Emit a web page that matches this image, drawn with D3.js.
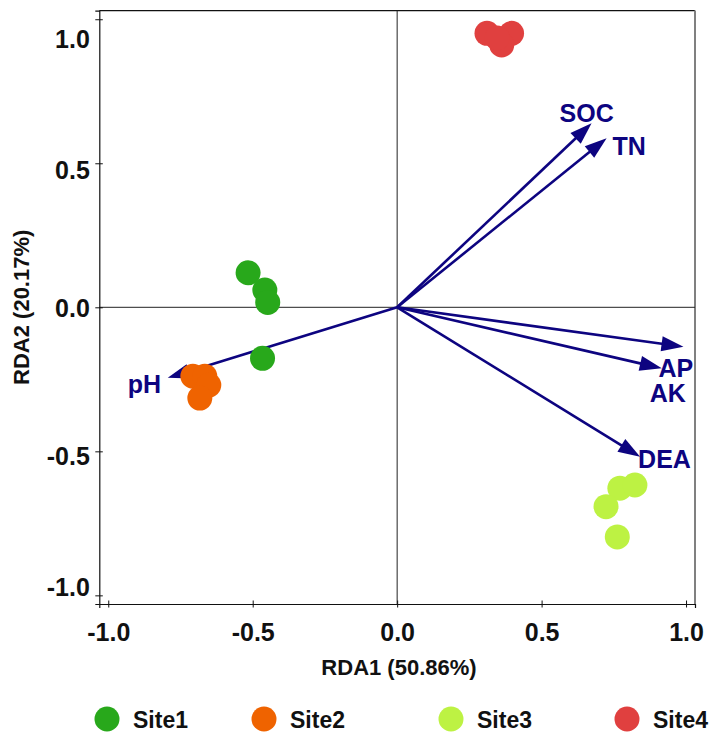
<!DOCTYPE html>
<html>
<head>
<meta charset="utf-8">
<script src="https://cdn.jsdelivr.net/npm/d3@7"></script>
<style>
  html, body { margin: 0; padding: 0; background: #fff; }
  svg { display: block; }
  text { font-family: "Liberation Sans", Arial, Helvetica, sans-serif; font-weight: bold; }
</style>
</head>
<body>
<svg id="chart" width="710" height="734"></svg>
<script>
// ---- data ----
const sites = ["Site1", "Site2", "Site3", "Site4"];
const sampleSite = ["Site1","Site1","Site1","Site1",
                    "Site2","Site2","Site2","Site2",
                    "Site3","Site3","Site3","Site3",
                    "Site4","Site4","Site4","Site4"];
const sampleX = [-0.516, -0.458, -0.448, -0.466,
                 -0.707, -0.666, -0.652, -0.683,
                  0.771,  0.823,  0.723,  0.762,
                  0.311,  0.396,  0.362,  0.346];
const sampleY = [ 0.120,  0.060,  0.017, -0.177,
                 -0.239, -0.239, -0.270, -0.315,
                 -0.628, -0.617, -0.692, -0.797,
                  0.951,  0.951,  0.911,  0.935];
const envVars = ["SOC", "TN", "AP", "AK", "DEA", "pH"];
const envX = [0.673, 0.725, 0.991, 0.916, 0.841, -0.794];
const envY = [0.639, 0.587, -0.137, -0.212, -0.519, -0.245];
const xTicks = [-1.0, -0.5, 0.0, 0.5, 1.0];
const yTicks = [-1.0, -0.5, 0.0, 0.5, 1.0];
const xTitle = "RDA1 (50.86%)";
const yTitle = "RDA2 (20.17%)";

// ---- styles ----
const siteColor = d3.scaleOrdinal().domain(sites)
  .range(["#28a81b", "#ef6300", "#bdf243", "#e0403f"]);
const arrowColor = "#0d0480";
// label offsets relative to arrow tips (text-anchor start, baseline)
const labelOffset = {
  SOC: [-32, -1], TN: [6, 17], AP: [-25, 30], AK: [-12, 34], DEA: [-2, 11], pH: [-40, 15]
};
const fmt = d => d.toFixed(1);

const svg = d3.select("#chart");
const L = 99.3, R = 695, T = 10.6, B = 604;
const x = d3.scaleLinear().domain([-1.031, 1.031]).range([L, R]);
const y = d3.scaleLinear().domain([-1.03, 1.03]).range([B, T]);
// tick label placement in the original figure is slightly compressed
const yLabelPos = d3.scaleLinear().domain([-1, -0.5, 0, 0.5, 1]).range([586, 455, 307, 169, 39]);

// frame
svg.append("line").attr("x1", L).attr("x2", R).attr("y1", T).attr("y2", T)
  .attr("stroke", "#111").attr("stroke-width", 1.2);
svg.append("line").attr("x1", R).attr("x2", R).attr("y1", T).attr("y2", B)
  .attr("stroke", "#808080").attr("stroke-width", 2);

// zero lines
svg.append("line").attr("x1", L).attr("x2", R).attr("y1", y(0)).attr("y2", y(0))
  .attr("stroke", "#222").attr("stroke-width", 1);
svg.append("line").attr("x1", x(0)).attr("x2", x(0)).attr("y1", T).attr("y2", B)
  .attr("stroke", "#222").attr("stroke-width", 1);

// axes
const yAxis = svg.append("g").attr("transform", `translate(${L},0)`)
  .call(d3.axisLeft(y).tickValues(yTicks).tickSizeOuter(0).tickSize(4).tickFormat(fmt));
yAxis.select(".domain").attr("stroke", "#111").attr("stroke-width", 1.2);
yAxis.selectAll(".tick line").attr("x1", -4).attr("x2", 3.5).attr("stroke", "#111");
yAxis.selectAll(".tick text")
  .attr("x", -9.5)
  .attr("y", d => yLabelPos(d) - y(d))
  .attr("dy", "0.36em")
  .attr("font-size", 25).attr("fill", "#111")
  .style("font-family", '"Liberation Sans", Arial, sans-serif').style("font-weight", "bold");

const xAxis = svg.append("g").attr("transform", `translate(0,${B})`)
  .call(d3.axisBottom(x).tickValues(xTicks).tickSizeOuter(0).tickSize(4).tickFormat(fmt));
xAxis.select(".domain").attr("stroke", "#111").attr("stroke-width", 1.2);
xAxis.selectAll(".tick line").attr("y1", -3.5).attr("y2", 3.5).attr("stroke", "#111");
xAxis.selectAll(".tick text")
  .attr("y", 28).attr("dy", "0.36em")
  .attr("font-size", 25).attr("fill", "#111")
  .style("font-family", '"Liberation Sans", Arial, sans-serif').style("font-weight", "bold");

// axis titles
svg.append("text").attr("x", 399).attr("y", 675).attr("text-anchor", "middle")
  .attr("font-size", 22).attr("fill", "#111").text(xTitle);
svg.append("text").attr("transform", `translate(29,${y(0)}) rotate(-90)`).attr("text-anchor", "middle")
  .attr("font-size", 22).attr("fill", "#111").text(yTitle);

// arrows
const env = envVars.map((name, i) => ({ name, vx: envX[i], vy: envY[i] }));
const headLen = 22, headHalf = 7.5;
const ag = svg.append("g");
env.forEach(d => {
  const x0 = x(0), y0 = y(0), x1 = x(d.vx), y1 = y(d.vy);
  const dx = x1 - x0, dy = y1 - y0, len = Math.hypot(dx, dy);
  const ux = dx / len, uy = dy / len;
  const bx = x1 - ux * headLen, by = y1 - uy * headLen;
  ag.append("line").attr("x1", x0).attr("y1", y0).attr("x2", bx + ux * 2).attr("y2", by + uy * 2)
    .attr("stroke", arrowColor).attr("stroke-width", 2.6);
  ag.append("path")
    .attr("d", `M${x1},${y1}L${bx - uy * headHalf},${by + ux * headHalf}L${bx + uy * headHalf},${by - ux * headHalf}Z`)
    .attr("fill", arrowColor);
});

// points
const samples = sampleSite.map((s, i) => ({ s, px: sampleX[i], py: sampleY[i] }));
svg.append("g").selectAll("circle").data(samples).join("circle")
  .attr("cx", d => x(d.px)).attr("cy", d => y(d.py)).attr("r", 12.5)
  .attr("fill", d => siteColor(d.s));

// arrow labels
svg.append("g").selectAll("text").data(env).join("text")
  .attr("x", d => x(d.vx) + labelOffset[d.name][0])
  .attr("y", d => y(d.vy) + labelOffset[d.name][1])
  .attr("font-size", 25).attr("fill", arrowColor)
  .text(d => d.name);

// legend
const legendPos = { Site1: 107, Site2: 264, Site3: 451, Site4: 627 };
const lg = svg.append("g").selectAll("g").data(sites).join("g")
  .attr("transform", d => `translate(${legendPos[d]},719)`);
lg.append("circle").attr("r", 12.5).attr("fill", d => siteColor(d));
lg.append("text").attr("x", 26).attr("y", 8.5).attr("font-size", 23).attr("fill", "#111").text(d => d);
</script>
</body>
</html>
